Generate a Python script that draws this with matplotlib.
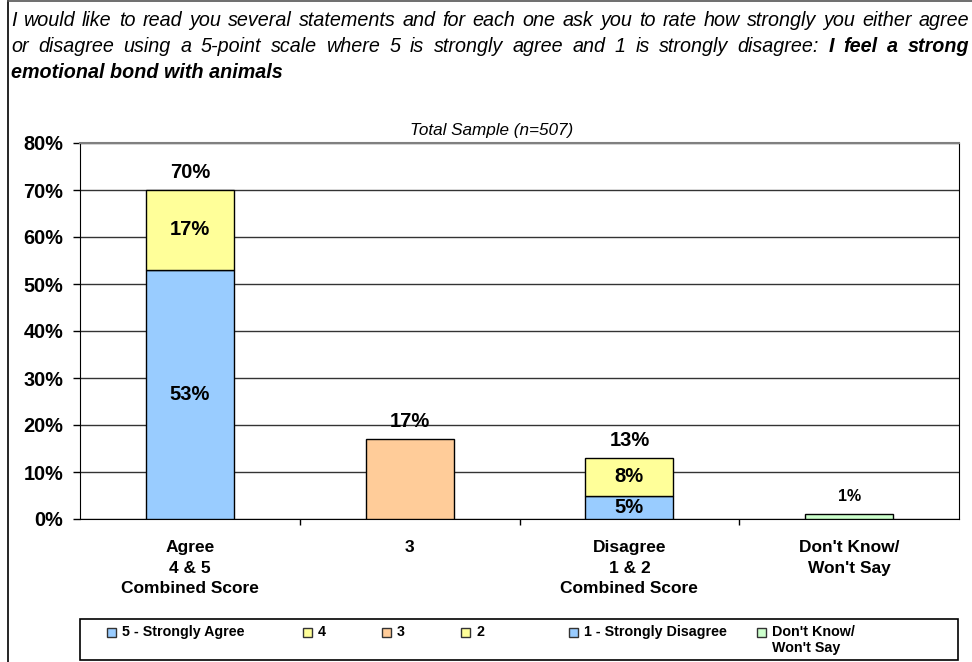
import matplotlib
matplotlib.use("Agg")
import matplotlib.pyplot as plt
from matplotlib.lines import Line2D
from matplotlib.patches import Rectangle
import numpy as np

plt.rcParams['font.family'] = ['Liberation Sans', 'DejaVu Sans']

# ---- data ----
categories = ['Agree\n4 & 5\nCombined Score', '3', 'Disagree\n1 & 2\nCombined Score', "Don't Know/\nWon't Say"]
series_names = ['5 - Strongly Agree', '4', '3', '2', '1 - Strongly Disagree', "Don't Know/\nWon't Say"]
series_colors = ['#99CCFF', '#FFFF99', '#FFCC99', '#FFFF99', '#99CCFF', '#CCFFCC']
series_values = [
    [53, 0, 0, 0],   # 5 - Strongly Agree
    [17, 0, 0, 0],   # 4
    [0, 17, 0, 0],   # 3
    [0, 0, 8, 0],    # 2
    [0, 0, 5, 0],    # 1 - Strongly Disagree
    [0, 0, 0, 1],    # Don't Know
]
stack_order = [0, 1, 2, 4, 3, 5]   # 1 sits under 2 in the disagree bar
totals = [70, 17, 13, 1]
y_ticks = [0, 10, 20, 30, 40, 50, 60, 70, 80]

title_line1 = "I would like to read you several statements and for each one ask you to rate how strongly you either agree"
title_line2 = "or disagree using a 5-point scale where 5 is strongly agree and 1 is strongly disagree:"
title_bold2 = "I feel a strong"
title_line3 = "emotional bond with animals"
subtitle = "Total Sample (n=507)"

W, H = 972, 662
fig = plt.figure(figsize=(W / 100, H / 100), dpi=100)


def fx(px):
    return px / W


def fy(py):
    return 1 - py / H


# outer frame (left and top edges visible)
fig.add_artist(Line2D([fx(7.5), fx(7.5)], [fy(1), fy(662)], color='black', lw=1.2))
fig.add_artist(Line2D([fx(7.5), fx(972)], [fy(1), fy(1)], color='#555555', lw=1.2))

# ---- justified title ----
renderer = fig.canvas.get_renderer()


def justify(tokens, y, x0, x1, size):
    texts = []
    widths = []
    for word, weight in tokens:
        t = fig.text(0, fy(y), word, fontsize=size, style='italic', fontweight=weight,
                     ha='left', va='center')
        widths.append(t.get_window_extent(renderer).width)
        texts.append(t)
    gap = (x1 - x0 - sum(widths)) / (len(tokens) - 1)
    x = x0
    for t, w in zip(texts, widths):
        t.set_x(fx(x))
        x += w + gap


tsize = 14.2
toks1 = [(w, 'normal') for w in title_line1.split()]
toks2 = [(w, 'normal') for w in title_line2.split()] + [(w, 'bold') for w in title_bold2.split()]
justify(toks1, 20, 11, 969, tsize)
justify(toks2, 46, 11, 969, tsize)
fig.text(fx(11), fy(72.5), title_line3, fontsize=tsize, style='italic', fontweight='bold',
         ha='left', va='center')

fig.text(fx(492), fy(130), subtitle, fontsize=12.3, style='italic', ha='center', va='center')

# ---- axes ----
ax = fig.add_axes([fx(80), fy(519), fx(959) - fx(80), fy(143) - fy(519)])
x = np.arange(len(categories))
bottoms = np.zeros(len(categories))
for i in stack_order:
    vals = np.array(series_values[i], dtype=float)
    keep = vals > 0
    ax.bar(x[keep], vals[keep], width=0.4, bottom=bottoms[keep], color=series_colors[i],
           edgecolor='black', linewidth=1, zorder=3)
    for xi, v, b in zip(x[keep], vals[keep], bottoms[keep]):
        if v != totals[xi]:
            ax.text(xi, b + v / 2, f'{v:.0f}%', ha='center', va='center',
                    fontsize=14.5, fontweight='bold', zorder=4)
    bottoms += vals

for xi, tot in zip(x, totals):
    ax.annotate(f'{tot}%', (xi, tot), xytext=(0, 12.5), textcoords='offset points',
                ha='center', va='center', fontweight='bold',
                fontsize=14.5 if tot >= 5 else 11.5)

ax.set_xlim(-0.5, len(categories) - 0.5)
ax.set_ylim(0, 80)
ax.set_yticks(y_ticks)
ax.set_yticklabels([f'{v}%' for v in y_ticks], fontsize=14.3, fontweight='bold')
ax.tick_params(axis='y', direction='out', length=5, width=1, pad=7)
ax.set_xticks(x)
ax.set_xticklabels(categories, fontsize=12.5, fontweight='bold', linespacing=1.48)
ax.set_xticks(x[:-1] + 0.5, minor=True)
ax.tick_params(axis='x', which='major', length=0, pad=15)
ax.tick_params(axis='x', which='minor', direction='out', length=4.5, width=1)
ax.grid(axis='y', color='#333333', linewidth=1, zorder=0)
ax.set_axisbelow(True)
for side in ['left', 'bottom', 'right']:
    ax.spines[side].set_color('black')
ax.spines['top'].set_color('#808080')
ax.spines['top'].set_linewidth(1.5)

# ---- legend box ----
fig.add_artist(Rectangle((fx(80), fy(660)), fx(958) - fx(80), fy(619) - fy(660),
                         facecolor='white', edgecolor='black', lw=1.2))
legend_x = [122, 318, 397, 476, 584, 772]
for name, col, lx in zip(series_names, series_colors, legend_x):
    fig.add_artist(Rectangle((fx(lx - 15), fy(637)), fx(9), fy(628) - fy(637),
                             facecolor=col, edgecolor='#333333', lw=1))
    fig.text(fx(lx), fy(625), name, fontsize=10.3, fontweight='bold', ha='left', va='top',
             linespacing=1.2)

fig.savefig('out.png', dpi=100)
